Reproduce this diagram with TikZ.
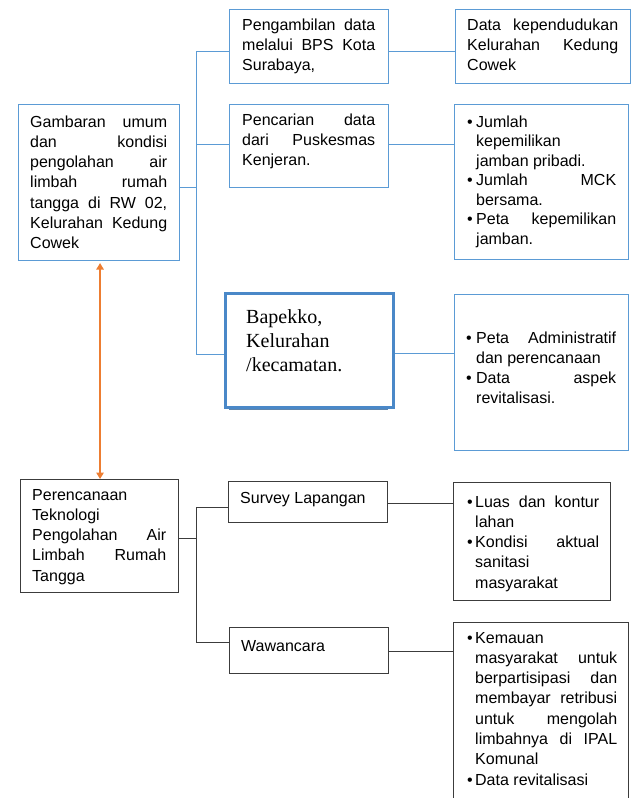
\documentclass[tikz,border=0pt]{standalone}
\usepackage{fontspec}
\setmainfont{Liberation Sans}
\newfontfamily\serifbox{Liberation Serif}
\usetikzlibrary{calc,arrows.meta}
\definecolor{bblue}{HTML}{5B9BD5}
\definecolor{bthick}{HTML}{4A88C8}
\definecolor{bdark}{HTML}{3C3C3C}
\definecolor{orng}{HTML}{ED7D31}
\hyphenpenalty=10000
\exhyphenpenalty=10000
\tolerance=10000
\hbadness=10000
\newcommand\bfirst[1][9pt]{\noindent\hangindent=#1\hangafter=1\makebox[#1][l]{\textbullet}}
\newcommand\bitem[1][9pt]{\par\bfirst[#1]}
\newcommand\nl{\hfil\break}
\tikzset{
  bbox/.style={draw=bblue, line width=1.1pt, rectangle, inner sep=0pt, anchor=north west},
  kbox/.style={draw=bdark, line width=1.1pt, rectangle, inner sep=0pt, anchor=north west},
  txt/.style={anchor=base west, inner sep=0pt, align=justify, font=\fontsize{16pt}{20.3pt}\selectfont},
  txtl/.style={anchor=base west, inner sep=0pt, align=left, font=\fontsize{16pt}{20.3pt}\selectfont},
  bl/.style={draw=bblue, line width=1pt},
  dk/.style={draw=bdark, line width=1pt},
}
\begin{document}
\begin{tikzpicture}[x=1pt,y=-1pt]
\useasboundingbox (0,0) rectangle (631,798);
% ---------- upper part ----------
\node[bbox, minimum width=161pt, minimum height=156pt] (gam) at (18,104) {};
\node[txt, text width=137pt] (gamt) at (30,127) {Gambaran umum\break dan kondisi\break pengolahan air\break limbah rumah\break tangga di RW 02,\break Kelurahan Kedung\break Cowek};

\node[bbox, minimum width=159pt, minimum height=74pt] (peng) at (229,9) {};
\node[txt, text width=133pt] (pengt) at (242,30) {Pengambilan data\break melalui BPS Kota\break Surabaya,};

\node[bbox, minimum width=159pt, minimum height=83pt] (pen) at (229,104) {};
\node[txt, text width=133pt] (pent) at (242,125) {Pencarian data\break dari Puskesmas\break Kenjeran.};

\node[bbox, minimum width=175pt, minimum height=74pt] (dkb) at (455,9) {};
\node[txt, text width=151pt] (dkt) at (467,30) {Data kependudukan\break Kelurahan Kedung\break Cowek};

\node[bbox, minimum width=174pt, minimum height=155pt] (jum) at (454,104) {};
\node[txt, text width=149pt, font=\fontsize{16pt}{19.5pt}\selectfont] (jumt) at (467,127) {\bfirst Jumlah\nl kepemilikan\nl jamban pribadi.\bitem Jumlah MCK\break bersama.\bitem Peta kepemilikan\break jamban.\par};

\draw[bthick!60!gray, line width=1.2pt] (229,409) -- (388,409);
\node[draw=bthick, line width=2.6pt, rectangle, inner sep=0pt, anchor=north west, minimum width=168pt, minimum height=114pt, fill=white] (bap) at (224,292) {};
\node[anchor=base west, inner sep=0pt, align=left, text width=140pt, font=\serifbox\fontsize{20pt}{24.3pt}\selectfont] (bapt) at (246,323) {Bapekko,\\Kelurahan\\/kecamatan.};

\node[bbox, minimum width=174pt, minimum height=156pt] (peta) at (454,294) {};
\node[txt, text width=150pt] (petat) at (466,343) {\bfirst[10pt]Peta Administratif\break dan perencanaan\bitem[10pt]Data aspek\break revitalisasi.\par};

% blue connectors
\coordinate (trA) at (196,51);
\coordinate (trG) at (196,187);
\coordinate (trP) at (196,144);
\coordinate (trB) at (196,354);
\draw[bl] (peng.west |- trA) -- (trA) -- (trB) -- (trB -| bap.west);
\draw[bl] (gam.east |- trG) -- (trG);
\draw[bl] (trP) -- (trP -| pen.west);
\draw[bl] ([yshift=-5pt]peng.east) -- ([yshift=-5pt]dkb.west);
\draw[bl] ([yshift=1.5pt]pen.east) -- ([yshift=1.5pt]pen.east -| jum.west);
\draw[bl] ([yshift=-3pt]bap.east) -- ([yshift=-3pt]bap.east -| peta.west);

% ---------- lower part ----------
\node[kbox, minimum width=158pt, minimum height=113pt] (per) at (20,479) {};
\node[txt, text width=134pt] (pert) at (32,500) {Perencanaan\nl Teknologi\nl Pengolahan Air\break Limbah Rumah\break Tangga};

% orange arrow
\draw[orng, line width=1.3pt, {Triangle[width=7.5pt,length=6.5pt]}-{Triangle[width=7.5pt,length=6.5pt]}] ([xshift=1pt,yshift=-2pt]gam.south) -- ([xshift=1pt]gam.south |- per.north);

\node[kbox, minimum width=159pt, minimum height=41pt] (sur) at (228,481) {};
\node[txtl] (surt) at (240,503) {Survey Lapangan};

\node[kbox, minimum width=159pt, minimum height=46pt] (waw) at (229,627) {};
\node[txtl] (wawt) at (241,651) {Wawancara};

\node[kbox, minimum width=157pt, minimum height=118pt] (luas) at (453,482) {};
\node[txt, text width=132pt] (luast) at (467,507) {\bfirst[8pt]Luas dan kontur\break lahan\bitem[8pt]Kondisi aktual\break sanitasi\nl masyarakat\par};

\node[kbox, minimum width=175pt, minimum height=182pt] (kem) at (453,622) {};
\node[txt, text width=150pt] (kemt) at (467,643) {\bfirst[8pt]Kemauan\nl masyarakat untuk\break berpartisipasi dan\break membayar retribusi\break untuk mengolah\break limbahnya di IPAL\break Komunal\bitem[8pt]Data revitalisasi\par};

% dark connectors
\coordinate (tkA) at (196,507);
\coordinate (tkP) at (196,538);
\coordinate (tkB) at (196,642);
\draw[dk] (sur.west |- tkA) -- (tkA) -- (tkB) -- (tkB -| waw.west);
\draw[dk] (per.east |- tkP) -- (tkP);
\draw[dk] ([yshift=-1.5pt]sur.east) -- ([yshift=-1.5pt]sur.east -| luas.west);
\draw[dk] ([yshift=-1pt]waw.east) -- ([yshift=-1pt]waw.east -| kem.west);
\end{tikzpicture}
\end{document}
